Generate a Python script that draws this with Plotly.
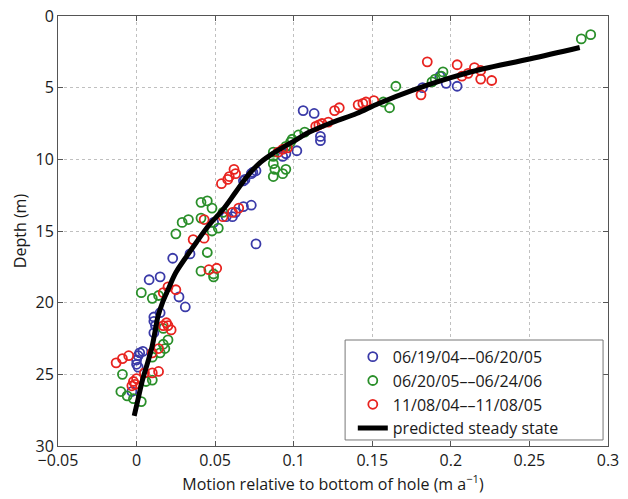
import plotly.graph_objects as go

# ---- data ----
blue_x = [0.182, 0.193, 0.197, 0.204, 0.106, 0.113, 0.117, 0.117, 0.102, 0.093, 0.095,
          0.076, 0.073, 0.069, 0.074, 0.068, 0.073, 0.068, 0.063, 0.061, 0.057, 0.049,
          0.076, 0.034, 0.023, 0.015, 0.008, 0.027, 0.031, 0.015, 0.011, 0.011, 0.012,
          0.011, 0.004, 0.001, 0.000, 0.000, 0.002, 0.001, -0.003]
blue_y = [5.0, 4.2, 4.7, 4.9, 6.6, 6.8, 8.7, 8.4, 9.4, 9.8, 9.6,
          10.8, 11.0, 11.4, 10.9, 11.5, 13.2, 13.3, 13.7, 14.0, 14.0, 14.4,
          15.9, 16.6, 16.9, 18.2, 18.4, 19.6, 20.3, 20.7, 21.0, 21.3, 21.6,
          22.1, 23.4, 23.7, 24.0, 24.3, 23.5, 24.5, 26.2]

green_x = [0.283, 0.289, 0.165, 0.157, 0.161, 0.188, 0.195, 0.194, 0.190,
           0.107, 0.103, 0.099, 0.098, 0.095, 0.087, 0.087, 0.087, 0.088, 0.095, 0.087, 0.093,
           0.041, 0.045, 0.048, 0.041, 0.029, 0.033, 0.025, 0.052, 0.048, 0.055, 0.045,
           0.041, 0.049, 0.049, 0.003, 0.010, 0.014, 0.017, 0.018, 0.015, 0.020, 0.010,
           0.017, -0.009, 0.006, 0.010, -0.010, -0.006, -0.002, 0.003]
green_y = [1.6, 1.3, 4.9, 6.0, 6.4, 4.6, 3.9, 4.2, 4.4,
           8.1, 8.3, 8.6, 8.8, 9.1, 9.5, 9.8, 10.3, 10.7, 10.7, 11.2, 11.0,
           13.0, 12.9, 13.4, 14.1, 14.4, 14.2, 15.2, 14.8, 15.0, 13.7, 16.5,
           17.8, 18.2, 18.0, 19.3, 19.7, 19.5, 22.9, 23.2, 23.5, 22.6, 23.8,
           21.8, 25.0, 25.5, 25.4, 26.2, 26.5, 26.7, 26.9]

red_x = [0.185, 0.204, 0.215, 0.219, 0.211, 0.207, 0.219, 0.226, 0.181, 0.151, 0.146,
         0.126, 0.129, 0.141, 0.144, 0.114, 0.118, 0.122, 0.116, 0.093, 0.090, 0.096,
         0.062, 0.063, 0.059, 0.058, 0.054, 0.043, 0.055, 0.061, 0.065, 0.036, 0.043,
         0.046, 0.051, 0.017, 0.020, 0.025, 0.017, 0.020, 0.022, 0.019, 0.014, 0.010,
         -0.005, -0.009, -0.013, 0.005, 0.010, 0.014, -0.002, -0.003, -0.001, 0.000]
red_y = [3.2, 3.4, 3.6, 3.8, 4.0, 4.2, 4.4, 4.5, 5.5, 5.9, 6.0,
         6.6, 6.4, 6.2, 6.1, 7.7, 7.5, 7.4, 7.6, 9.3, 9.5, 9.2,
         10.7, 11.0, 11.2, 11.4, 11.7, 14.2, 14.0, 13.7, 13.4, 15.6, 15.5,
         17.7, 17.6, 19.3, 18.9, 19.1, 21.6, 21.6, 21.9, 21.4, 23.2, 23.5,
         23.7, 23.9, 24.2, 24.9, 24.9, 24.8, 25.5, 25.8, 25.7, 25.3]

model_x = [0.282, 0.25, 0.22, 0.2, 0.175, 0.154, 0.14, 0.125, 0.11, 0.099, 0.088, 0.079,
           0.071, 0.063, 0.055, 0.046, 0.038, 0.031, 0.025, 0.020, 0.0165, 0.0135, 0.0118,
           0.0098, 0.0070, 0.0040, 0.0010, -0.0015]
model_y = [2.2, 3.0, 3.7, 4.3, 5.2, 6.1, 6.8, 7.4, 8.1, 8.8, 9.5, 10.2,
           11.1, 12.3, 13.5, 14.6, 15.8, 16.9, 17.9, 19.1, 20.0, 21.0, 22.0,
           23.1, 24.2, 25.3, 26.7, 27.9]

names = ["06/19/04\u2013\u201306/20/05", "06/20/05\u2013\u201306/24/06",
         "11/08/04\u2013\u201311/08/05", "predicted steady state"]
x_ticks = [-0.05, 0, 0.05, 0.1, 0.15, 0.2, 0.25, 0.3]
x_tick_labels = ["\u22120.05", "0", "0.05", "0.1", "0.15", "0.2", "0.25", "0.3"]
y_ticks = [0, 5, 10, 15, 20, 25, 30]

FONT = "Open Sans"
TXT = "#1a1a1a"

fig = go.Figure()
for xs, ys, col, nm in [(blue_x, blue_y, "#3a3aa8", names[0]),
                        (green_x, green_y, "#2a8f2a", names[1]),
                        (red_x, red_y, "#e8231f", names[2])]:
    fig.add_trace(go.Scatter(
        x=xs, y=ys, mode="markers", name=nm,
        marker=dict(symbol="circle-open", size=9, color=col, line=dict(width=1.8, color=col)),
    ))
fig.add_trace(go.Scatter(x=model_x, y=model_y, mode="lines", name=names[3],
                         line=dict(color="black", width=5, shape="spline", smoothing=1.0)))

axis_common = dict(
    showline=True, linecolor="#555555", linewidth=1, mirror="ticks",
    ticks="inside", ticklen=5, tickcolor="#555555",
    showgrid=True, gridcolor="#c0c0c0", griddash="dot", gridwidth=1,
    zeroline=False, automargin=False,
    tickfont=dict(size=16, color=TXT, family=FONT),
)
fig.update_xaxes(range=[-0.05, 0.3], tickvals=x_ticks, ticktext=x_tick_labels,
                 title=dict(text="Motion relative to bottom of hole (m a<sup>\u22121</sup>)",
                            font=dict(size=16, color=TXT, family=FONT), standoff=2),
                 **axis_common)
fig.update_yaxes(range=[30, 0], tickvals=y_ticks,
                 title=dict(text="Depth (m)", font=dict(size=16, color=TXT, family=FONT),
                            standoff=4),
                 **axis_common)

# legend frame (drawn as a box so its width matches the original)
fig.add_shape(type="rect", xref="paper", yref="paper",
              x0=0.522, x1=0.991, y0=0.014, y1=0.2465,
              fillcolor="white", line=dict(color="#777777", width=1), layer="above")

fig.update_layout(
    width=628, height=499,
    margin=dict(l=58, r=20, t=16, b=53, autoexpand=False),
    plot_bgcolor="white", paper_bgcolor="white",
    font=dict(family=FONT, size=16, color=TXT),
    legend=dict(x=0.536, y=0.247, xanchor="left", yanchor="top",
                bgcolor="rgba(0,0,0,0)", borderwidth=0,
                font=dict(size=16, family=FONT, color=TXT),
                itemwidth=30, tracegroupgap=0),
    showlegend=True,
)

fig.write_html("out.html", config={"displayModeBar": False},
               post_script="document.body.style.margin='0';document.body.style.overflow='hidden';")
